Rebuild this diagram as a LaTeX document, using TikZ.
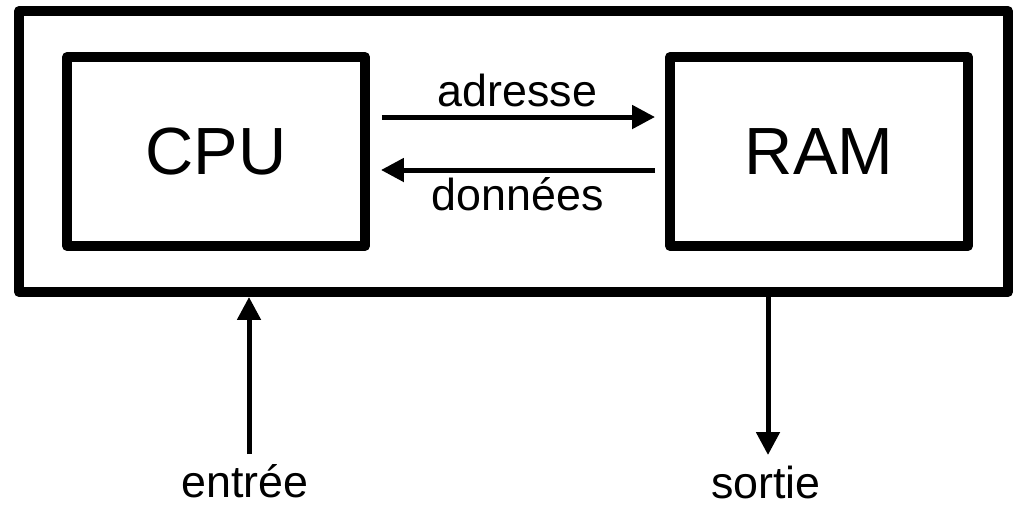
\documentclass[tikz,border=0pt]{standalone}
\usepackage{fontspec}
\setmainfont{Liberation Sans}
\usetikzlibrary{%
    arrows.meta,%
    positioning,%
    calc%
}
\tikzset{
    block/.style = {draw, rectangle, line width=0.2cm, line join=round,
    minimum width=5.96cm, minimum height=3.78cm, font=\fontsize{38}{45}\selectfont},
    arr/.style = {line width=0.1cm, -{Triangle[length=0.46cm, width=0.46cm]}},
    lbl/.style = {inner sep=0pt, outer sep=0pt, font=\fontsize{25.5}{30}\selectfont}
}
\begin{document}
\begin{tikzpicture}[x=0.02cm, y=-0.02cm]
    \useasboundingbox (0,0) rectangle (1028,512);
    \node[draw, rectangle, line width=0.2cm, line join=round, minimum width=19.78cm,
        minimum height=5.62cm] (computer) at (513.5,151.5) {};
    \node (cpu) [block] at (216,151.5) {CPU};
    \node (ram) [block] at (819,151.5) {RAM};
    \draw[arr, shorten <=0.24cm, shorten >=0.2cm] ([yshift=0.69cm]cpu.east) --
        node[lbl, midway, above=0.2cm] (adresse) {adresse} ([yshift=0.69cm]ram.west);
    \draw[arr, shorten <=0.2cm, shorten >=0.22cm] ([yshift=-0.37cm]ram.west) --
        node[lbl, midway, below=0.16cm] (donnees) {données} ([yshift=-0.37cm]cpu.east);
    \node[lbl, anchor=base] (entree) at (245,497) {entrée};
    \node[lbl, anchor=base] (sortie) at (766,498) {sortie};
    \coordinate (entreetail) at (249,454);
    \coordinate (sortietip) at (768,455);
    \draw[arr] (entreetail) -- (entreetail |- computer.south);
    \draw[arr] (computer.south -| sortietip) -- (sortietip);
\end{tikzpicture}
\end{document}
